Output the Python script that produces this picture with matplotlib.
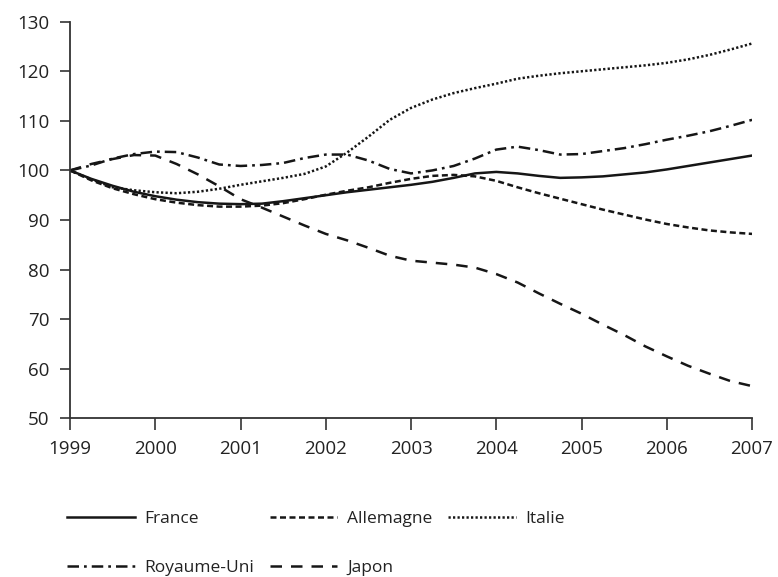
import matplotlib
matplotlib.use("Agg")
import matplotlib.pyplot as plt

plt.rcParams['font.family'] = ['Open Sans', 'DejaVu Sans']

# quarterly readings, 1999 -> 2007
years = [1999 + 0.25 * i for i in range(33)]

france = [100, 98.3, 96.9, 95.7, 94.8, 94.1, 93.6, 93.3, 93.2, 93.3, 93.8,
          94.4, 95.0, 95.6, 96.1, 96.6, 97.1, 97.7, 98.5, 99.4, 99.7, 99.4,
          98.9, 98.5, 98.6, 98.8, 99.2, 99.6, 100.2, 100.9, 101.6, 102.3, 103.0]

allemagne = [100, 98.0, 96.4, 95.2, 94.2, 93.5, 93.0, 92.7, 92.7, 92.9, 93.4,
             94.2, 95.1, 95.9, 96.6, 97.5, 98.3, 98.9, 99.1, 98.8, 97.9, 96.6,
             95.4, 94.3, 93.2, 92.1, 91.1, 90.1, 89.2, 88.5, 87.9, 87.5, 87.2]

italie = [100, 98.2, 96.6, 96.0, 95.6, 95.4, 95.7, 96.3, 97.1, 97.8, 98.5,
          99.3, 100.8, 103.6, 106.8, 110.2, 112.6, 114.3, 115.6, 116.6, 117.5,
          118.5, 119.1, 119.6, 120.0, 120.4, 120.8, 121.2, 121.7, 122.4, 123.3,
          124.4, 125.6]

royaume_uni = [100, 101.0, 102.4, 103.3, 103.8, 103.7, 102.6, 101.2, 100.9,
               101.1, 101.5, 102.5, 103.2, 103.2, 102.0, 100.3, 99.4, 100.0,
               100.9, 102.4, 104.2, 104.8, 104.1, 103.2, 103.3, 103.9, 104.5,
               105.3, 106.2, 107.0, 107.9, 109.0, 110.2]

japon = [100, 101.3, 102.3, 103.1, 103.0, 101.3, 99.2, 96.8, 94.2, 92.5, 90.7,
         88.9, 87.2, 85.9, 84.4, 82.8, 81.8, 81.4, 81.0, 80.4, 79.1, 77.4,
         75.2, 73.1, 71.1, 68.9, 66.8, 64.5, 62.5, 60.6, 59.0, 57.5, 56.5]

year_ticks = list(range(1999, 2008))
value_ticks = list(range(50, 131, 10))

ink = '#161616'
fig = plt.figure(figsize=(7.78, 5.77), dpi=100)
ax = fig.add_axes([0.09, 0.275, 0.8766, 0.6874])

l_fr, = ax.plot(years, france, color=ink, lw=1.8, ls='-', label='France')
l_al, = ax.plot(years, allemagne, color=ink, lw=1.8, ls=(0, (2.4, 1.4)), label='Allemagne')
l_it, = ax.plot(years, italie, color=ink, lw=1.8, ls=(0, (0.9, 0.9)), label='Italie')
l_ru, = ax.plot(years, royaume_uni, color=ink, lw=1.8, ls=(0, (4.6, 2.0, 1.1, 2.0)), label='Royaume-Uni')
l_jp, = ax.plot(years, japon, color=ink, lw=1.8, ls=(0, (4.6, 3.6)), label='Japon')

ax.set_xlim(1999, 2007)
ax.set_ylim(50, 130)
ax.set_xticks(year_ticks)
ax.set_yticks(value_ticks)
for s in ['top', 'right']:
    ax.spines[s].set_visible(False)
for s in ['left', 'bottom']:
    ax.spines[s].set_color('#333333')
    ax.spines[s].set_linewidth(1.3)
ax.tick_params(axis='y', direction='out', length=7, width=1.2, color='#333333',
               pad=8, labelsize=13.5, labelcolor='#222222')
ax.tick_params(axis='x', direction='out', length=8.5, width=1.2, color='#333333',
               pad=7, labelsize=13.5, labelcolor='#222222')

fig.legend([l_fr, l_ru, l_al, l_jp, l_it],
           ['France', 'Royaume-Uni', 'Allemagne', 'Japon', 'Italie'],
           ncol=3, loc='upper left', bbox_to_anchor=(0.066, 0.141),
           frameon=False, fontsize=12.5, handlelength=3.9, handletextpad=0.55,
           columnspacing=0.9, labelspacing=1.85, labelcolor='#222222')

fig.savefig('out.png', dpi=100, facecolor='white')
